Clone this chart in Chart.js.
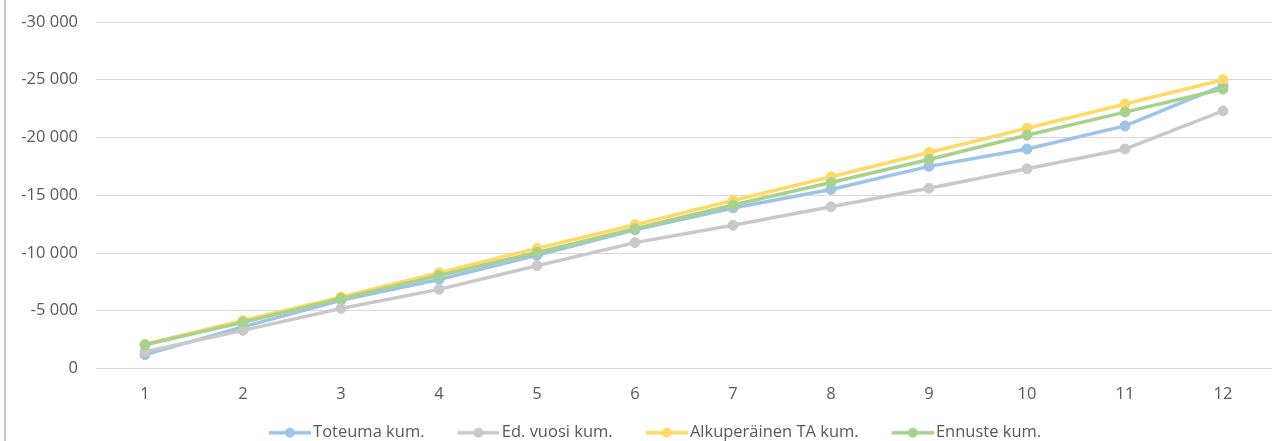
<!DOCTYPE html>
<html>
<head>
<meta charset="utf-8">
<script src="https://cdn.jsdelivr.net/npm/chart.js@4/dist/chart.umd.min.js"></script>
<style>
  html, body { margin: 0; padding: 0; background: #ffffff; overflow: hidden; }
  #wrap { position: relative; width: 1272px; height: 451px; }
  #edge { position: absolute; left: 4px; top: 0; width: 2px; height: 441px; background: #c4c4c4; }
</style>
</head>
<body>
<div id="wrap">
  <canvas id="c" width="1272" height="451"></canvas>
  <div id="edge"></div>
</div>
<script>
// ---- data ----
const categories = ['1','2','3','4','5','6','7','8','9','10','11','12'];
const seriesNames = ['Toteuma kum.', 'Ed. vuosi kum.', 'Alkuperäinen TA kum.', 'Ennuste kum.'];
const toteuma      = [-1200, -3600, -5900, -7700, -9800, -12000, -13900, -15500, -17500, -19000, -21000, -24500];
const edVuosi      = [-1450, -3300, -5200, -6850, -8900, -10900, -12400, -14000, -15600, -17300, -19000, -22300];
const alkuperainen = [-2100, -4150, -6200, -8300, -10400, -12450, -14550, -16600, -18700, -20800, -22900, -25000];
const ennuste      = [-2050, -4000, -6050, -8050, -10050, -12100, -14150, -16100, -18100, -20200, -22200, -24200];
const yMin = -30000, yMax = 0, yStep = 5000;

const colors = ['#9DC3E6', '#C9C9C9', '#FFD966', '#A9D18E'];
const seriesData = [toteuma, edVuosi, alkuperainen, ennuste];

function fmt(v) {
  const s = Math.abs(v).toString().replace(/\B(?=(\d{3})+(?!\d))/g, ' ');
  return (v < 0 ? '-' : '') + s;
}

function legendMarker(color) {
  const c = document.createElement('canvas');
  c.width = 58; c.height = 14;
  const g = c.getContext('2d');
  g.strokeStyle = color; g.lineWidth = 3.5;
  g.beginPath(); g.moveTo(16, 7); g.lineTo(58, 7); g.stroke();
  g.fillStyle = color;
  g.beginPath(); g.arc(37, 7, 5, 0, Math.PI * 2); g.fill();
  return c;
}
const markers = colors.map(legendMarker);

const FONT = '"Open Sans", "DejaVu Sans", sans-serif';
const TXT = '#595959';
const FS = 16.5;

// let the y tick labels extend left of the (narrow) axis box without being clipped
const unclipY = {
  id: 'unclipY',
  afterLayout(chart) { const y = chart.scales.y; if (y) y.left = 0; }
};

new Chart(document.getElementById('c'), {
  type: 'line',
  plugins: [unclipY],
  data: {
    labels: categories,
    datasets: seriesData.map((d, i) => ({
      label: seriesNames[i],
      data: d,
      borderColor: colors[i],
      backgroundColor: colors[i],
      pointBackgroundColor: colors[i],
      pointBorderColor: colors[i],
      borderWidth: 3.5,
      pointRadius: 5,
      pointBorderWidth: 1,
      tension: 0,
      fill: false,
      order: seriesData.length - i
    }))
  },
  options: {
    responsive: false,
    animation: false,
    devicePixelRatio: 1,
    layout: { autoPadding: false, padding: { top: 22, left: 26, right: -2, bottom: 0 } },
    font: { family: FONT },
    scales: {
      x: {
        offset: true,
        afterFit: (s) => { s.height = 33; s.paddingLeft = 0; s.paddingRight = 0; },
        grid: { display: false, drawTicks: false },
        border: { display: false },
        ticks: { color: TXT, font: { family: FONT, size: FS }, padding: 16, maxRotation: 0 }
      },
      y: {
        min: yMin, max: yMax, reverse: true,
        afterFit: (s) => { s.width = 70; s.paddingTop = 0; s.paddingBottom = 0; },
        grid: { color: '#d9d9d9', lineWidth: 1, drawTicks: false },
        border: { display: false },
        ticks: { stepSize: yStep, color: TXT, font: { family: FONT, size: FS }, padding: 18, callback: (v) => fmt(v) }
      }
    },
    plugins: {
      tooltip: { enabled: false },
      legend: {
        position: 'bottom',
        labels: {
          usePointStyle: true,
          pointStyleWidth: 46,
          padding: 23,
          color: TXT,
          font: { family: FONT, size: FS },
          generateLabels: (chart) => chart.data.datasets.map((ds, i) => ({
            text: ds.label,
            fillStyle: colors[i],
            strokeStyle: colors[i],
            fontColor: TXT,
            lineWidth: 0,
            pointStyle: markers[i],
            hidden: false,
            datasetIndex: i
          }))
        }
      }
    }
  }
});
</script>
</body>
</html>
